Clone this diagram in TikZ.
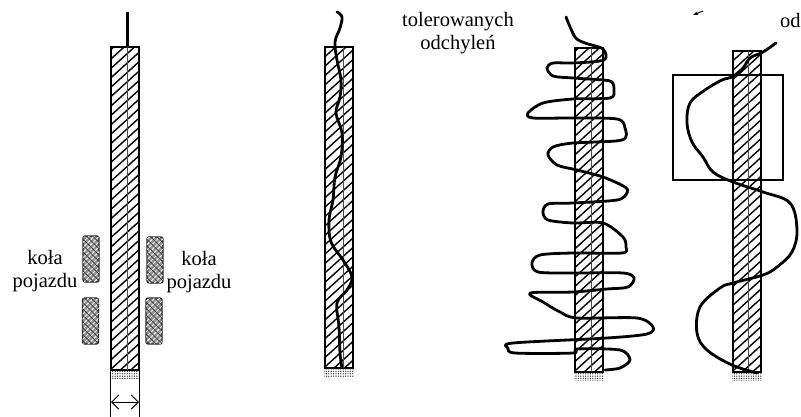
\documentclass[tikz,border=0pt]{standalone}
\usepackage{fontspec}
\setmainfont{Liberation Serif}
\usepackage{tikz}
\usetikzlibrary{arrows.meta, patterns.meta, calc}

\begin{document}
\begin{tikzpicture}[
  x=1pt, y=-1pt,
  stripbox/.style={rectangle, draw=black, line width=1.9pt, minimum width=28.5pt, inner sep=0pt, outer sep=0pt,
              path picture={
                \foreach \k in {-4,...,38}
                  \draw[line width=1.4pt] ($(path picture bounding box.south west)+(-1,-9.4*\k)$) -- ++(32,-29);
              }},
  sand/.style={rectangle, minimum width=30pt, minimum height=8pt, inner sep=0pt,
              pattern={Dots[distance=2.4pt, radius=0.7pt]}, pattern color=black!80},
  wheel/.style={rectangle, rounded corners=2pt, draw=black!85, line width=1.2pt, fill=gray!85,
              minimum width=16pt, minimum height=46pt, inner sep=0pt,
              postaction={pattern={Lines[angle=45, distance=3.6pt, line width=0.8pt]}, pattern color=white},
              postaction={pattern={Lines[angle=-45, distance=4.5pt, line width=0.7pt]}, pattern color=black!80}},
  label/.style={font=\fontsize{20.5}{23}\selectfont, align=center, inner sep=0pt},
  mid/.style={black!70, line width=1pt},
  track/.style={black, line width=2.8pt, line cap=round, line join=round},
]
  \useasboundingbox (0,0) rectangle (801,417);

  % strips
  \node[stripbox, minimum height=323.5pt] (strip1) at (125,208.5) {};
  \node[stripbox, minimum height=321pt] (strip2) at (339,207.5) {};
  \node[stripbox, minimum height=324pt] (strip3) at (589,210) {};
  \node[stripbox, minimum height=321pt] (strip4) at (747,211.5) {};
  \node[sand, anchor=north] (sand1) at (strip1.south) {};
  \node[sand, anchor=north] (sand2) at (strip2.south) {};
  \node[sand, anchor=north] (sand3) at (strip3.south) {};
  \node[sand, anchor=north] (sand4) at (strip4.south) {};
  \draw[mid] ([xshift=2pt]strip1.north) -- ([xshift=2pt]strip1.south);
  \draw[mid] ([xshift=4pt]strip2.north) -- ([xshift=4pt]strip2.south);
  \draw[mid] ([xshift=2.5pt]strip3.north) -- ([xshift=2.5pt]strip3.south);
  \draw[mid] ([xshift=1pt]strip4.north) -- ([xshift=1pt]strip4.south);

  % wheels
  \node[wheel] (wheelLT) at (91,259) {};
  \node[wheel] (wheelLB) at (90.5,321) {};
  \node[wheel] (wheelRT) at (155,260) {};
  \node[wheel] (wheelRB) at (154,321) {};

  % labels
  \node[label] (labelL) at (45,271) {koła\\pojazdu};
  \node[label] (labelR) at (199,272) {koła\\pojazdu};
  \node[label] (labelT) at (458,33) {tolerowanych\\odchyleń};
  \node[label, anchor=west] (labelO) at (780,20) {od};

  % width
  \coordinate (entry) at (127.5,12);
  \draw[line width=2.6pt] (entry) -- ([xshift=2.5pt]strip1.north);
  \coordinate (dimL) at (110.75,417);
  \coordinate (dimR) at (139.25,417);
  \draw[line width=0.8pt] (strip1.south west) -- (dimL);
  \draw[line width=1.5pt] (strip1.south east) -- (dimR);
  \coordinate (arrL) at (111,402);
  \coordinate (arrR) at (139,402);
  \draw[{Straight Barb[length=2.5mm]}-{Straight Barb[length=2.5mm]}, line width=0.9pt] (arrL) -- (arrR);

  % tracks
  \draw[track] plot[smooth, tension=0.6] coordinates {(337,12) (342,17) (340,28) (335,42) (337,60) (341,80) (340,97) (336,113) (342,133) (341,157) (335,177) (333,200) (329,220) (331,242) (343,260) (352,277) (347,290) (337,303) (339,327) (340,353) (342,368)};

  \draw[track] plot[smooth, tension=0.5] coordinates {(566,17) (575,37) (585,43) (603,49) (604,60) (573,63) (553,63) (547,68) (553,76) (573,78) (603,80) (612,82) (614,90) (610,98) (573,99) (543,103) (528,113) (533,118) (573,118) (617,119) (625,128) (622,140) (573,143) (553,147) (548,155) (557,165) (577,170) (603,177) (625,187) (627,193) (617,200) (573,203) (548,204) (543,212) (548,220) (573,223) (603,223) (623,237) (626,247) (622,253) (573,253) (540,255) (532,263) (538,272) (573,273) (623,273) (634,278) (628,287) (607,289) (573,292) (530,293) (543,302) (560,312) (577,318) (637,318) (653,327) (647,334) (607,338) (513,343) (508,348) (515,353) (573,353) (577,349) (620,350) (630,360) (620,368) (605,370)};

  \draw[track] plot[smooth, tension=0.6] coordinates {(776,43) (763,52) (750,58) (743,68) (732,77) (722,80) (705,90) (690,103) (687,123) (692,142) (703,157) (713,172) (733,182) (763,192) (790,203) (797,230) (792,252) (777,267) (763,275) (733,283) (720,288) (700,307) (697,333) (707,350) (732,365) (757,373)};

  % frame
  \node[draw=black, line width=2.1pt, minimum width=110pt, minimum height=105pt, inner sep=0pt] (frame) at (728,127.5) {};

  % stray tick
  \coordinate (tickA) at (703,11);
  \coordinate (tickB) at (693,15);
  \draw[-{Stealth[length=1.8mm]}, line width=1pt] (tickA) -- (tickB);
\end{tikzpicture}
\end{document}
